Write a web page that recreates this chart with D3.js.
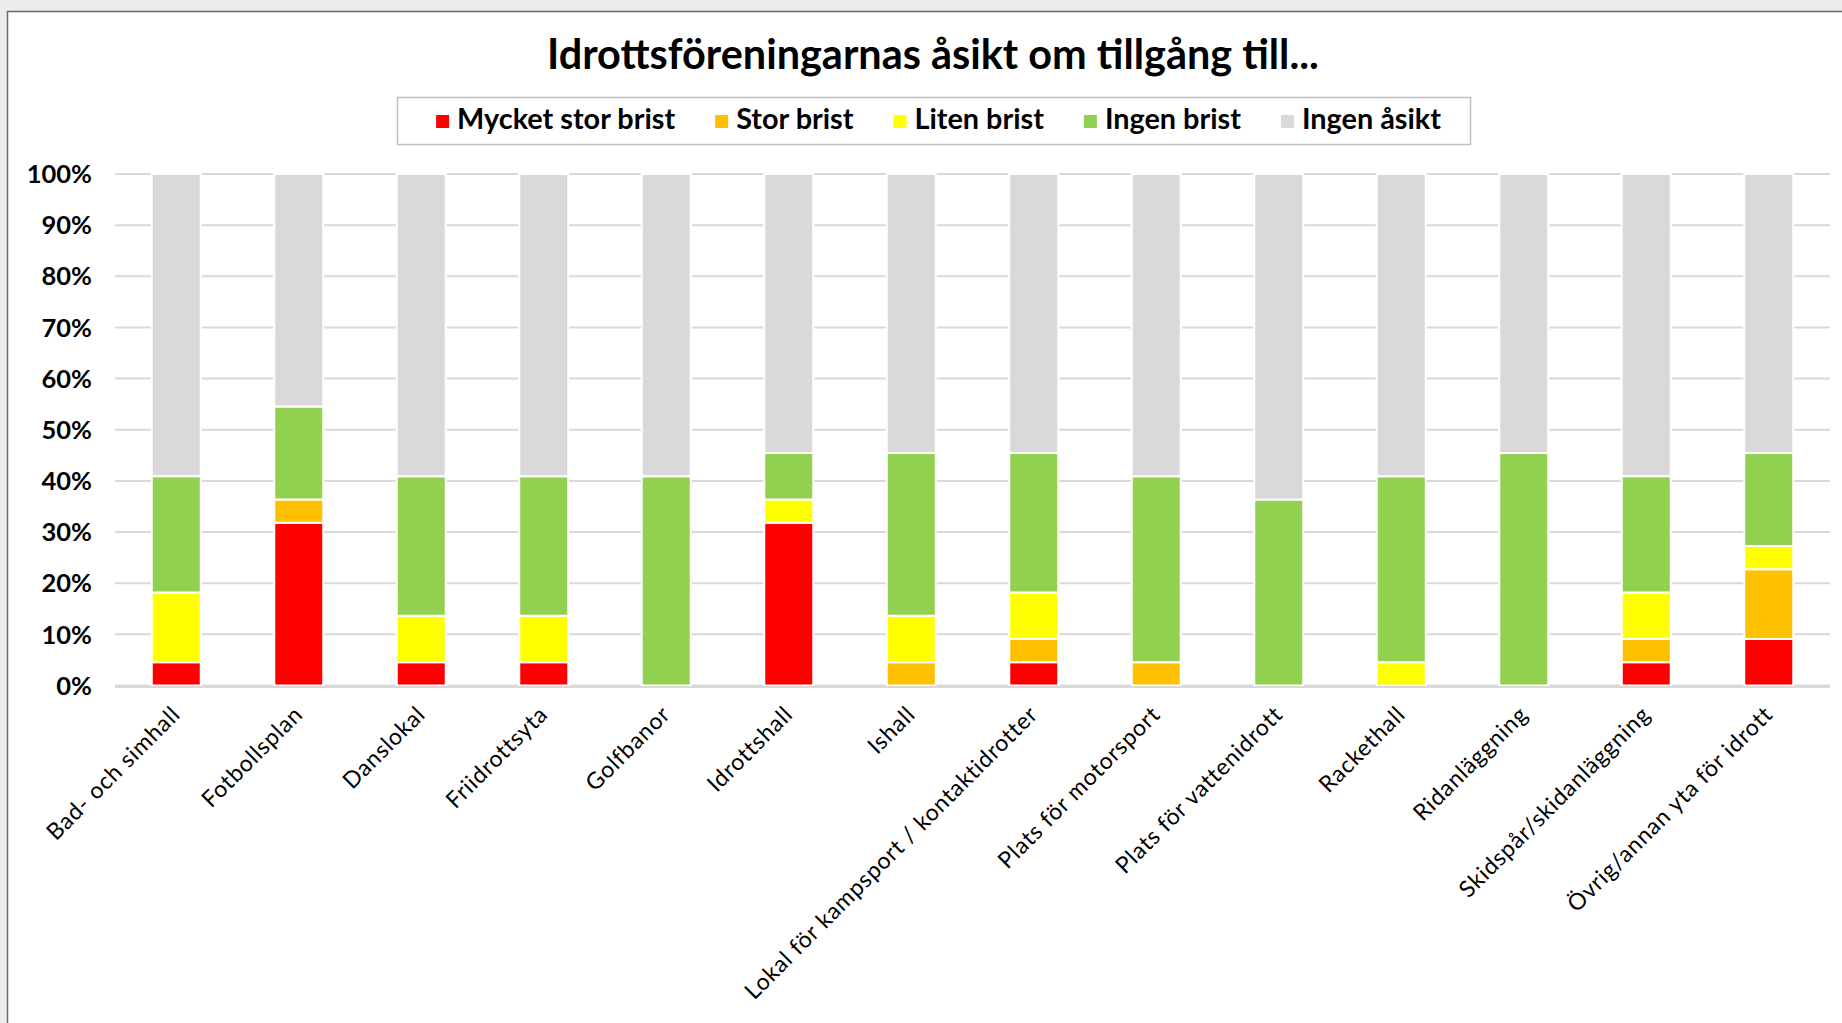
<!DOCTYPE html>
<html><head><meta charset="utf-8">
<script src="https://cdn.jsdelivr.net/npm/d3@7"></script>
<style>html,body{margin:0;padding:0;background:#ececec;} svg{display:block}</style>
</head><body><svg id="chart" width="1842" height="1023"></svg>
<script>
const titleText = "Idrottsföreningarnas åsikt om tillgång till...";
const categories = ["Bad- och simhall","Fotbollsplan","Danslokal","Friidrottsyta","Golfbanor","Idrottshall","Ishall","Lokal för kampsport / kontaktidrotter","Plats för motorsport","Plats för vattenidrott","Rackethall","Ridanläggning","Skidspår/skidanläggning","Övrig/annan yta för idrott"];
const seriesNames = ["Mycket stor brist","Stor brist","Liten brist","Ingen brist","Ingen åsikt"];
const seriesColors = ["#FF0000","#FFC000","#FFFF00","#92D050","#D9D9D9"];
const mycketStorBrist = [4.55,31.82,4.55,4.55,0,31.82,0,4.55,0,0,0,0,4.55,9.09];
const storBrist       = [0,4.55,0,0,0,0,4.55,4.55,4.55,0,0,0,4.55,13.64];
const litenBrist      = [13.64,0,9.09,9.09,0,4.55,9.09,9.09,0,0,4.55,0,9.09,4.55];
const ingenBrist      = [22.73,18.18,27.27,27.27,40.91,9.09,31.82,27.27,36.36,36.36,36.36,45.45,22.73,18.18];
const ingenAsikt      = [59.09,45.45,59.09,59.09,59.09,54.55,54.55,54.55,59.09,63.64,59.09,54.55,59.09,54.55];
const yTicks = [0,10,20,30,40,50,60,70,80,90,100];

const seriesValues = [mycketStorBrist, storBrist, litenBrist, ingenBrist, ingenAsikt];
const rows = categories.map((c,i)=>{const r={cat:c}; seriesNames.forEach((s,k)=>r[s]=seriesValues[k][i]); return r;});

const W=1842,H=1023;
const svg=d3.select("#chart");
const FONT="Lato, 'Open Sans', sans-serif";

// window frame
svg.append("rect").attr("width",W).attr("height",H).attr("fill","#ececec");
svg.append("rect").attr("x",7).attr("y",11).attr("width",W-7).attr("height",H-11).attr("fill","#ffffff");
svg.append("line").attr("x1",7.5).attr("x2",7.5).attr("y1",11).attr("y2",H).attr("stroke","#6a6a6a").attr("stroke-width",1.5);
svg.append("line").attr("x1",7).attr("x2",W).attr("y1",11.5).attr("y2",11.5).attr("stroke","#6a6a6a").attr("stroke-width",1.5);

const plot={left:115,right:1830,top:174,bottom:685.5};
const x=d3.scaleBand().domain(categories).range([plot.left,plot.right]).paddingInner(0.6).paddingOuter(0.3);
const y=d3.scaleLinear().domain([0,100]).range([plot.bottom,plot.top]);

// title
const title=svg.append("text").attr("x",933).attr("y",68.5).attr("text-anchor","middle")
  .attr("font-family",FONT).attr("font-weight",700).attr("font-size",36).attr("fill","#000").text(titleText);
{const w=title.node().getComputedTextLength(); title.attr("font-size",36*772/w);}

// legend
const legBox={x:397,y:97,w:1073,h:47};
svg.append("rect").attr("x",legBox.x+0.5).attr("y",legBox.y+0.5).attr("width",legBox.w).attr("height",legBox.h)
  .attr("fill","#fff").attr("stroke","#bfbfbf").attr("stroke-width",1.5);
const lg=svg.append("g");
const items=lg.selectAll("g").data(seriesNames).join("g");
items.append("rect").attr("width",13).attr("height",13).attr("y",115).attr("fill",(d,i)=>seriesColors[i]);
const lt=items.append("text").attr("y",129.3).attr("font-family",FONT).attr("font-weight",700).attr("font-size",24).attr("fill","#000").text(d=>d);
let tot=0; lt.each(function(){tot+=this.getComputedTextLength();});
const lfs=24*740/tot; lt.attr("font-size",lfs);
const widths=[]; lt.each(function(){widths.push(this.getComputedTextLength());});
const totalW=d3.sum(widths)+seriesNames.length*21+(seriesNames.length-1)*40;
let cx=938.5-totalW/2;
items.each(function(d,i){d3.select(this).attr("transform",`translate(${cx},0)`); cx+=21+widths[i]+40;});
lt.attr("x",21);

// gridlines
svg.append("g").selectAll("line").data(yTicks).join("line")
  .attr("x1",plot.left).attr("x2",plot.right).attr("y1",d=>y(d)).attr("y2",d=>y(d))
  .attr("stroke","#d9d9d9").attr("stroke-width",2);

// bars
const stack=d3.stack().keys(seriesNames)(rows);
svg.append("g").selectAll("g").data(stack).join("g").attr("fill",(d,i)=>seriesColors[i])
  .selectAll("rect").data(d=>d.filter(s=>s[1]-s[0]>0.001)).join("rect")
  .attr("x",d=>x(d.data.cat)).attr("width",x.bandwidth())
  .attr("y",d=>y(d[1])).attr("height",d=>y(d[0])-y(d[1]))
  .attr("stroke","#ffffff").attr("stroke-width",2);

// baseline
svg.append("line").attr("x1",plot.left).attr("x2",plot.right).attr("y1",y(0)+1.5).attr("y2",y(0)+1.5)
  .attr("stroke","#d9d9d9").attr("stroke-width",2);

// y axis labels
svg.append("g").selectAll("text").data(yTicks).join("text")
  .attr("x",92).attr("y",d=>y(d)).attr("dy","0.36em").attr("text-anchor","end")
  .attr("font-family",FONT).attr("font-weight",700).attr("font-size",25.5).attr("fill","#000")
  .text(d=>d+"%");

// x axis labels
svg.append("g").selectAll("text").data(categories).join("text")
  .attr("transform",d=>`translate(${x(d)+x.bandwidth()/2-6},${plot.bottom+19}) rotate(-45)`)
  .attr("text-anchor","end").attr("dy","0.7em")
  .attr("font-family",FONT).attr("font-weight",400).attr("font-size",23).attr("letter-spacing",0.75).attr("fill","#000")
  .text(d=>d);
</script></body></html>
